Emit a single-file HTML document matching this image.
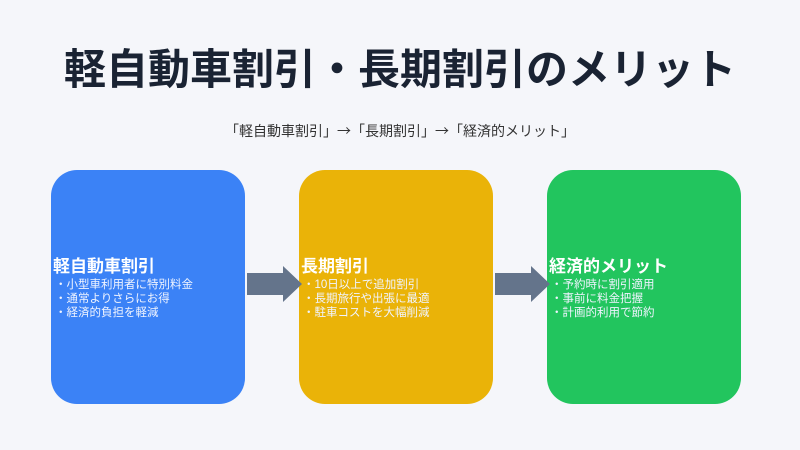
<!DOCTYPE html>
<html><head><meta charset="utf-8"><style>
body{margin:0;width:800px;height:450px;background:#f5f6fa;position:relative;overflow:hidden;font-family:"Liberation Sans","Noto Sans CJK JP",sans-serif;}
.t{position:absolute;left:0;width:800px;text-align:center;top:41px;font-size:42px;font-weight:bold;color:#1a2333;line-height:58px;}
.s{position:absolute;left:0;width:800px;text-align:center;top:120px;font-size:14px;color:#333;line-height:22px;font-family:"Noto Sans CJK JP",sans-serif;}
.b{position:absolute;top:170px;width:194px;height:234px;border-radius:26px;}
.c{position:absolute;top:256px;color:#fff;}
.c h{display:block;font-size:17px;font-weight:bold;line-height:22px;}
.c p{margin:0;font-size:11.5px;line-height:14px;padding-left:2px;color:#f0f4ff;}
</style></head><body>
<div class="t">軽自動車割引・長期割引のメリット</div>
<div class="s">「軽自動車割引」→「長期割引」→「経済的メリット」</div>
<div class="b" style="left:51px;background:#3b82f6"></div>
<div class="b" style="left:299px;background:#eab308"></div>
<div class="b" style="left:547px;background:#22c55e"></div>
<svg style="position:absolute;left:0;top:0" width="800" height="450">
<polygon points="247,273 283,273 283,266 302,284 283,302 283,295 247,295" fill="#64748b"/>
<polygon points="495,273 531,273 531,266 550,284 531,302 531,295 495,295" fill="#64748b"/>
</svg>
<div class="c" style="left:53px"><h>軽自動車割引</h><p>・小型車利用者に特別料金</p><p>・通常よりさらにお得</p><p>・経済的負担を軽減</p></div>
<div class="c" style="left:301px"><h>長期割引</h><p>・10日以上で追加割引</p><p>・長期旅行や出張に最適</p><p>・駐車コストを大幅削減</p></div>
<div class="c" style="left:549px"><h>経済的メリット</h><p>・予約時に割引適用</p><p>・事前に料金把握</p><p>・計画的利用で節約</p></div>
</body></html>
